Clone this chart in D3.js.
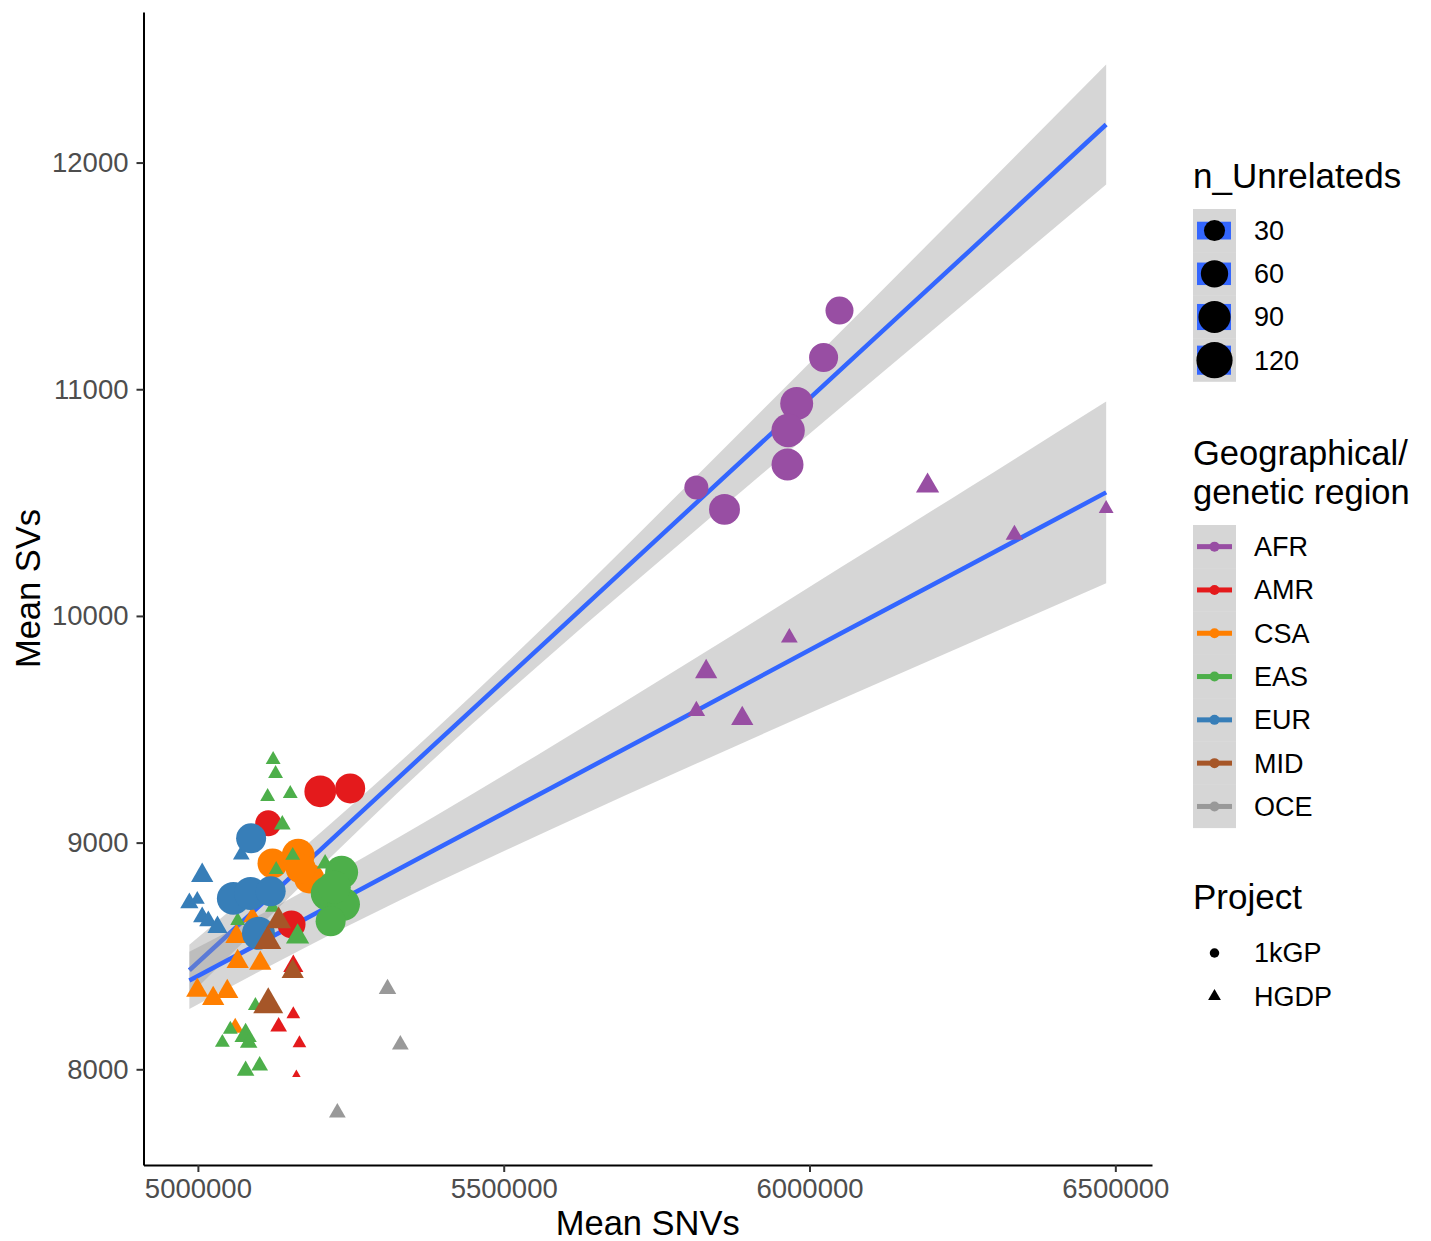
<!DOCTYPE html>
<html>
<head>
<meta charset="utf-8">
<script src="https://cdn.jsdelivr.net/npm/d3@7"></script>
<style>
  body { margin: 0; background: #ffffff; }
  text { font-family: "Liberation Sans", Arial, Helvetica, sans-serif; }
</style>
</head>
<body>
<svg id="chart" width="1431" height="1241"></svg>
<script>
// ---- data -------------------------------------------------------------
const regions = ["AFR", "AMR", "CSA", "EAS", "EUR", "MID", "OCE"];
const regionColors = ["#984EA3", "#E41A1C", "#FF7F00", "#4DAF4A", "#377EB8", "#A65628", "#999999"];
const projects = ["1kGP", "HGDP"];
const sizeBreaks = [30, 60, 90, 120];
const sizeLimits = [1, 121];
const xTicks = [5000000, 5500000, 6000000, 6500000];
const yTicks = [8000, 9000, 10000, 11000, 12000];

// one entry per population, in drawing order
const popRegion = [
  "AFR","AFR","AFR","AFR","AFR","AFR","AFR",
  "AFR","AFR","AFR","AFR","AFR","AFR","AFR",
  "AMR","AMR","AMR","AMR","AMR",
  "AMR","AMR","AMR","AMR",
  "CSA","CSA","CSA","CSA","CSA","CSA","CSA","CSA",
  "CSA","CSA","CSA","CSA",
  "EAS","EAS","EAS","EAS","EAS","EAS","EAS","EAS","EAS","EAS","EAS","EAS","EAS","EAS","EAS","EAS","EAS","EAS",
  "EAS","EAS","EAS","EAS","EAS",
  "EUR","EUR","EUR","EUR","EUR","EUR","EUR",
  "EUR","EUR","EUR","EUR","EUR",
  "MID","MID","MID","MID",
  "OCE","OCE","OCE"
];
const popProject = [
  "HGDP","HGDP","HGDP","HGDP","HGDP","HGDP","HGDP",
  "1kGP","1kGP","1kGP","1kGP","1kGP","1kGP","1kGP",
  "HGDP","HGDP","HGDP","HGDP","HGDP",
  "1kGP","1kGP","1kGP","1kGP",
  "HGDP","HGDP","HGDP","HGDP","HGDP","HGDP","HGDP","HGDP",
  "1kGP","1kGP","1kGP","1kGP",
  "HGDP","HGDP","HGDP","HGDP","HGDP","HGDP","HGDP","HGDP","HGDP","HGDP","HGDP","HGDP","HGDP","HGDP","HGDP","HGDP","HGDP","HGDP",
  "1kGP","1kGP","1kGP","1kGP","1kGP",
  "HGDP","HGDP","HGDP","HGDP","HGDP","HGDP","HGDP",
  "1kGP","1kGP","1kGP","1kGP","1kGP",
  "HGDP","HGDP","HGDP","HGDP",
  "HGDP","HGDP","HGDP"
];
const meanSNVs = [
  6193000, 6335000, 6485000, 5967000, 5831000, 5815000, 5890000,
  6049000, 6023000, 5979000, 5965000, 5964000, 5815000, 5861000,
  5156000, 5156000, 5132000, 5166000, 5161000,
  5200000, 5249000, 5115000, 5153000,
  5063000, 5065000, 5102000, 4999000, 5025000, 5048000, 5061000, 5089000,
  5122000, 5164000, 5182000, 5168000,
  5123000, 5127000, 5114000, 5151000, 5138000, 5155000, 5208000, 5128000, 5065000,
  5163000, 5094000, 5053000, 5040000, 5078000, 5083000, 5078000, 5101000, 5122000,
  5235000, 5213000, 5238000, 5217000, 5223000,
  5007000, 4986000, 4999000, 5007000, 5017000, 5032000, 5071000,
  5087000, 5058000, 5086000, 5119000, 5099000,
  5132000, 5114000, 5155000, 5115000,
  5310000, 5331000, 5228000
];
const meanSVs = [
  10574, 10358, 10473, 9904, 9754, 9581, 9547,
  11347, 11140, 10937, 10818, 10668, 10567, 10470,
  8455, 8243, 8188, 8115, 7977,
  9226, 9239, 9085, 8639,
  8586, 8475, 8467, 8348, 8312, 8343, 8183, 8672,
  8908, 8944, 8842, 8886,
  9366, 9304, 9203, 9216, 9079, 8943, 8907, 8881, 8656,
  8585, 8281, 8176, 8118, 8149, 8117, 7994, 8016, 8714,
  8869, 8776, 8728, 8653, 8803,
  8855, 8734, 8749, 8672, 8654, 8627, 8947,
  9019, 8754, 8776, 8785, 8600,
  8654, 8565, 8431, 8285,
  8355, 8109, 7809
];
const nUnrelateds = [
  17, 7, 4, 6, 15, 7, 15,
  64, 70, 96, 99, 89, 43, 82,
  11, 3, 6, 3, 1,
  87, 76, 53, 64,
  15, 15, 15, 15, 15, 15, 7, 8,
  76, 96, 76, 76,
  4, 4, 4, 4, 6, 4, 6, 4, 4,
  17, 4, 4, 4, 15, 7, 7, 6, 4,
  96, 110, 96, 76, 96,
  15, 8, 4, 8, 8, 11, 6,
  76, 96, 96, 76, 96,
  21, 27, 15, 35,
  7, 6, 6
];

// linear fits (Mean SVs ~ Mean SNVs) per project with 95% confidence band
const smoothX  = [4986000, 5167000, 5386000, 5576000, 5821000, 6050000, 6263000, 6485000];
const fit1kGP  = [8437, 8885, 9431, 9903, 10514, 11084, 11614, 12168];
const lo1kGP   = [8325, 8805, 9369, 9827, 10395, 10917, 11400, 11903];
const hi1kGP   = [8549, 8965, 9493, 9979, 10633, 11251, 11828, 12433];
const fitHGDP  = [8392, 8651, 8966, 9239, 9591, 9921, 10226, 10545];
const loHGDP   = [8266, 8525, 8818, 9057, 9356, 9630, 9882, 10144];
const hiHGDP   = [8518, 8777, 9114, 9421, 9826, 10212, 10570, 10946];

// ---- layout -----------------------------------------------------------
const panel = { left: 143.5, right: 1152, top: 12, bottom: 1165 };
const svg = d3.select("#chart");

const xExt = d3.extent(meanSNVs.concat(smoothX));
const xPad = (xExt[1] - xExt[0]) * 0.05;
const x = d3.scaleLinear().domain([xExt[0] - xPad, xExt[1] + xPad]).range([panel.left, panel.right]);

const yExt = d3.extent(meanSVs.concat(lo1kGP, hi1kGP, loHGDP, hiHGDP));
const yPad = (yExt[1] - yExt[0]) * 0.05;
const y = d3.scaleLinear().domain([yExt[0] - yPad, yExt[1] + yPad]).range([panel.bottom, panel.top]);

const color = d3.scaleOrdinal().domain(regions).range(regionColors);
const shape = d3.scaleOrdinal().domain(projects).range([d3.symbolCircle, d3.symbolTriangle]);
const sizeNorm = d3.scaleLinear().domain(sizeLimits).range([0, 1]).clamp(true);
const diamScale = d3.scaleLinear().domain([0, 1]).range([6.3, 36.3]);
const diameter = n => diamScale(Math.sqrt(sizeNorm(n)));
const symbolArea = d => Math.PI * (d / 2) * (d / 2);

// ---- smooth bands and lines ------------------------------------------
const fits = [
  { fit: fit1kGP, lo: lo1kGP, hi: hi1kGP },
  { fit: fitHGDP, lo: loHGDP, hi: hiHGDP }
];
const gSmooth = svg.append("g");
fits.forEach(f => {
  const pts = smoothX.map((sx, i) => ({ x: sx, fit: f.fit[i], lo: f.lo[i], hi: f.hi[i] }));
  gSmooth.append("path").datum(pts)
    .attr("d", d3.area().x(d => x(d.x)).y0(d => y(d.lo)).y1(d => y(d.hi)).curve(d3.curveMonotoneX))
    .attr("fill", "#999999").attr("fill-opacity", 0.4);
  gSmooth.append("path").datum(pts)
    .attr("d", d3.line().x(d => x(d.x)).y(d => y(d.fit)))
    .attr("fill", "none").attr("stroke", "#3366FF").attr("stroke-width", 4.5);
});

// ---- points -----------------------------------------------------------
svg.append("g").selectAll("path")
  .data(d3.range(meanSNVs.length))
  .join("path")
  .attr("transform", i => `translate(${x(meanSNVs[i])},${y(meanSVs[i])})`)
  .attr("d", i => d3.symbol(shape(popProject[i]), symbolArea(diameter(nUnrelateds[i])))())
  .attr("fill", i => color(popRegion[i]));

// ---- axes -------------------------------------------------------------
const xAxis = svg.append("g").attr("transform", `translate(0,${panel.bottom})`)
  .call(d3.axisBottom(x).tickValues(xTicks).tickFormat(d3.format("d")).tickSizeInner(7).tickSizeOuter(0).tickPadding(6));
const yAxis = svg.append("g").attr("transform", `translate(${panel.left},0)`)
  .call(d3.axisLeft(y).tickValues(yTicks).tickFormat(d3.format("d")).tickSizeInner(7).tickSizeOuter(0).tickPadding(8));
[xAxis, yAxis].forEach(a => {
  a.select(".domain").attr("stroke", "#000").attr("stroke-width", 2);
  a.selectAll(".tick line").attr("stroke", "#333333").attr("stroke-width", 2);
  a.selectAll(".tick text").attr("fill", "#4D4D4D").style("font-size", "27.5px")
    .style("font-family", '"Liberation Sans", Arial, sans-serif');
});

svg.append("text").attr("x", (panel.left + panel.right) / 2).attr("y", 1235)
  .attr("text-anchor", "middle").style("font-size", "34.5px").attr("fill", "#000").text("Mean SNVs");
svg.append("text").attr("transform", `translate(40,${(panel.top + panel.bottom) / 2}) rotate(-90)`)
  .attr("text-anchor", "middle").style("font-size", "34.5px").attr("fill", "#000").text("Mean SVs");

// ---- legends ----------------------------------------------------------
const lg = svg.append("g");
const keyX = 1193, keyW = 43, keyH = 43.2, keyCx = 1214.5, labelX = 1254;
const keyFill = "rgba(153,153,153,0.4)";

// size legend
lg.append("text").attr("x", keyX).attr("y", 188).style("font-size", "35px").text("n_Unrelateds");
sizeBreaks.forEach((b, i) => {
  const top = 209 + i * keyH, cy = top + keyH / 2, d = diameter(b);
  lg.append("rect").attr("x", keyX).attr("y", top).attr("width", keyW).attr("height", keyH).attr("fill", keyFill);
  const lh = 0.75 * d + 2;
  lg.append("rect").attr("x", 1197).attr("y", cy - lh / 2).attr("width", 34).attr("height", lh).attr("fill", "#3366FF");
  lg.append("circle").attr("cx", keyCx).attr("cy", cy).attr("r", d / 2).attr("fill", "#000");
  lg.append("text").attr("x", labelX).attr("y", cy).attr("dy", "0.35em").style("font-size", "27px").text(b);
});

// region legend, two-line title
lg.append("text").attr("x", keyX).attr("y", 465).style("font-size", "34.5px").text("Geographical/");
lg.append("text").attr("x", keyX).attr("y", 504).style("font-size", "34.5px").text("genetic region");
regions.forEach((r, i) => {
  const top = 525 + i * 43.3, cy = top + 43.3 / 2;
  lg.append("rect").attr("x", keyX).attr("y", top).attr("width", keyW).attr("height", 43.3).attr("fill", keyFill);
  lg.append("rect").attr("x", 1197).attr("y", cy - 2.5).attr("width", 35).attr("height", 5).attr("fill", color(r));
  lg.append("circle").attr("cx", keyCx).attr("cy", cy).attr("r", 5).attr("fill", color(r));
  lg.append("text").attr("x", labelX).attr("y", cy).attr("dy", "0.35em").style("font-size", "27px").text(r);
});

// project legend
lg.append("text").attr("x", keyX).attr("y", 909).style("font-size", "35px").text("Project");
projects.forEach((p, i) => {
  const cy = 953 + i * 43.3;
  lg.append("path").attr("transform", `translate(${keyCx},${cy})`)
    .attr("d", d3.symbol(shape(p), symbolArea(9.5))()).attr("fill", "#000");
  lg.append("text").attr("x", labelX).attr("y", cy).attr("dy", "0.35em").style("font-size", "27px").text(p);
});
</script>
</body>
</html>
